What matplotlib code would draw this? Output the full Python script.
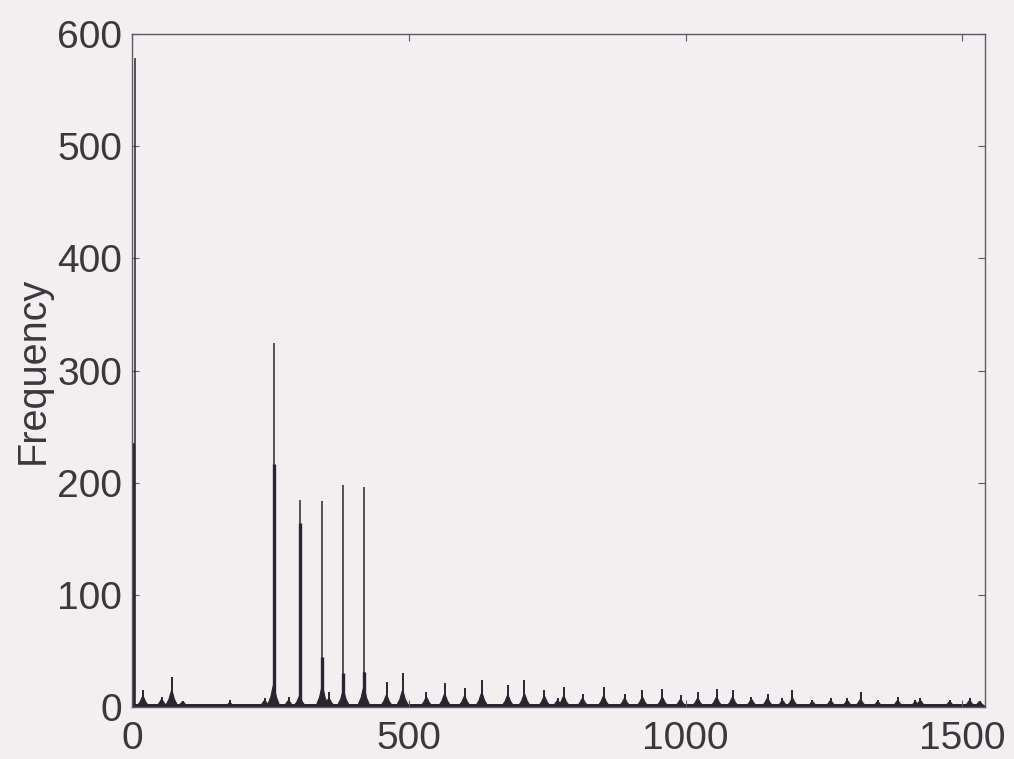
import matplotlib
matplotlib.use("Agg")
import matplotlib.pyplot as plt

# ---- data ----
# tall isolated lines: position, top height, lower thick "shoulder" level
peak_x = [2, 5, 256, 303, 344, 382, 419]
peak_h = [235, 579, 325, 185, 184, 198, 196]
shoulder_h = [235, 0, 217, 164, 45, 30, 31]

# small periodic spikes near the baseline: position, spike top, mound height
bump_x = [20, 54, 72, 92, 177, 240, 256, 283, 303, 344, 356, 382, 419,
          460, 489, 532, 565, 601, 632, 679, 709, 745, 769, 780, 814, 852,
          890, 922, 958, 991, 1022, 1056, 1085, 1119, 1148, 1175, 1193, 1229,
          1262, 1292, 1316, 1347, 1383, 1415, 1424, 1477, 1513, 1531]
bump_peak = [15, 9, 27, 5, 6, 8, 22, 9, 10, 20, 13, 15, 31,
             22, 30, 13, 21, 17, 24, 20, 24, 15, 8, 18, 12, 18,
             12, 15, 16, 11, 13, 16, 15, 9, 12, 8, 15, 6,
             8, 8, 13, 6, 9, 6, 8, 6, 8, 5]
bump_body = [10, 7, 15, 5, 4, 6, 20, 6, 10, 19, 8, 15, 18,
             11, 15, 9, 12, 10, 13, 11, 12, 10, 6, 10, 8, 10,
             8, 9, 9, 7, 8, 9, 9, 7, 8, 6, 8, 5,
             6, 6, 7, 5, 6, 5, 6, 5, 6, 5]
floor_level = 3

x_ticks = [0, 500, 1000, 1500]
y_ticks = [0, 100, 200, 300, 400, 500, 600]
x_max = 1540
y_max = 600

# ---- style ----
bg = "#f3eff1"
ink = "#2a2430"
frame = "#5e5865"
text_c = "#3a373d"
plt.rcParams["font.family"] = ["Liberation Sans", "DejaVu Sans"]

fig = plt.figure(figsize=(10.14, 7.59), dpi=100, facecolor=bg)
ax = fig.add_axes([0.130, 0.0685, 0.841, 0.8865], facecolor=bg)

# noise floor
ax.fill_between([0, x_max - 8], 0, floor_level, color=ink, lw=0)

# mounds + spikes
mound_half = 12
for x, p, b in zip(bump_x, bump_peak, bump_body):
    ax.fill([x - mound_half, x - 5, x - 2, x, x + 2, x + 5, x + mound_half],
            [0, b * 0.45, b * 0.8, b, b * 0.8, b * 0.45, 0],
            color=ink, lw=0.8)
ax.vlines(bump_x, 0, bump_peak, color=ink, lw=1.4)

# tall lines
ax.vlines(peak_x, 0, peak_h, color=ink, lw=1.1)
ax.vlines(peak_x, 0, shoulder_h, color=ink, lw=2.4)

ax.set_xlim(0, x_max)
ax.set_ylim(0, y_max)
ax.set_xticks(x_ticks)
ax.set_yticks(y_ticks)
ax.tick_params(direction="in", length=5, width=0.8, color=frame,
               top=True, right=True, labelsize=28, labelcolor=text_c)
ax.tick_params(axis="x", pad=10)
ax.tick_params(axis="y", pad=7)
for s in ax.spines.values():
    s.set_color(frame)
    s.set_linewidth(1.0)

ax.set_ylabel("Frequency", fontsize=28.5, color=text_c, labelpad=4)

fig.savefig("out.png", dpi=100, facecolor=bg)
